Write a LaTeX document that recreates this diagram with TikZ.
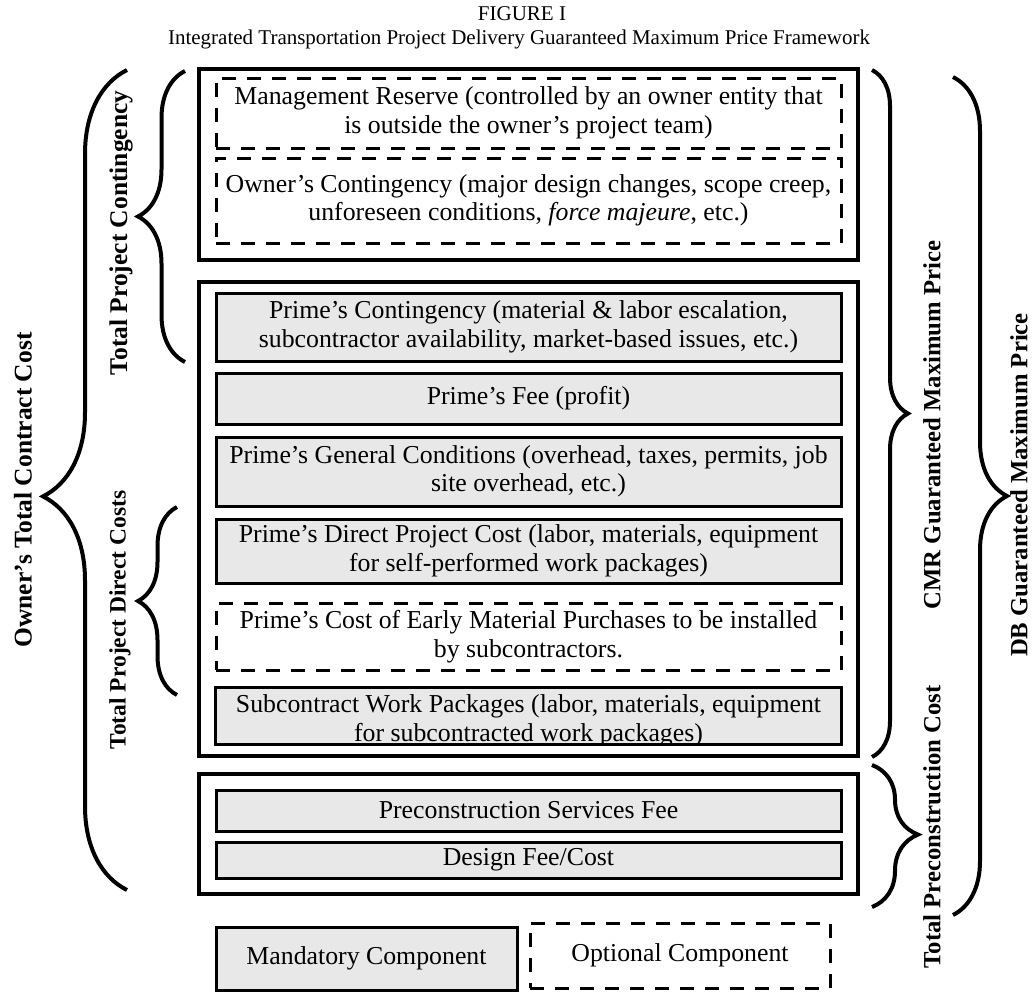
\documentclass[tikz,border=0pt]{standalone}
\usepackage{fontspec}
\setmainfont{Liberation Serif}
\usetikzlibrary{decorations.pathreplacing}
\definecolor{boxgray}{HTML}{E8E8E8}
\newcommand{\bxfont}{\fontsize{25.8}{28.5}\selectfont}
\newcommand{\sdfont}{\fontsize{24.7}{28}\selectfont\bfseries}
\newcommand{\ttlfont}{\fontsize{21}{25}\selectfont}
\begin{document}
\begin{tikzpicture}[x=1pt,y=-1pt,
  outerbox/.style={draw, line width=4.5pt, minimum width=659pt, inner sep=0pt},
  graybox/.style={draw, fill=boxgray, line width=3pt, minimum width=625pt, inner sep=0pt, align=center, font=\bxfont},
  dashbox/.style={draw, line width=3pt, dash pattern=on 14pt off 11pt, minimum width=625pt, inner sep=0pt, align=center, font=\bxfont},
  txt/.style={align=center, font=\bxfont, inner sep=0pt},
  brc/.style={decorate, line width=4pt},
  sidelabel/.style={rotate=90, font=\sdfont, inner sep=0pt},
  ttl/.style={font=\ttlfont, inner sep=0pt}
]
\useasboundingbox (0,0) rectangle (1033,991);
\fill[white] (0,0) rectangle (1033,991);

% titles
\node[ttl] (fig) at (522,14) {FIGURE I};
\node[ttl] (sub) at (519,39) {Integrated Transportation Project Delivery Guaranteed Maximum Price Framework};

% group 1: contingency
\node[outerbox, minimum height=191pt] (b1) at (528.5,164.5) {};
\node[dashbox, minimum height=70pt] (mr) at (528.5,113) {Management Reserve (controlled by an owner entity that\\is outside the owner’s project team)};
\node[dashbox, minimum height=85pt] (oc) at (528.5,200.5) {Owner’s Contingency (major design changes, scope creep,\\unforeseen conditions, \textit{force majeure}, etc.)};

% group 2: CMR price
\node[outerbox, minimum height=474pt] (b2) at (528.5,519) {};
\node[graybox, minimum height=68pt] (pc) at (528.5,327) {Prime’s Contingency (material \& labor escalation,\\subcontractor availability, market-based issues, etc.)};
\node[graybox, minimum height=51pt] (pf) at (528.5,398.5) {Prime’s Fee (profit)};
\node[graybox, minimum height=69pt] (gc) at (528.5,471.5) {Prime’s General Conditions (overhead, taxes, permits, job\\site overhead, etc.)};
\node[graybox, minimum height=64pt] (dpc) at (528.5,551) {Prime’s Direct Project Cost (labor, materials, equipment\\for self-performed work packages)};
\node[dashbox, minimum height=67pt] (em) at (528.5,636.5) {Prime’s Cost of Early Material Purchases to be installed\\by subcontractors.};
\node[draw=none, fill=boxgray, minimum width=625pt, minimum height=56pt, inner sep=0pt] (sw) at (528.5,716) {};
\begin{scope}
  \clip (sw.south west) rectangle (sw.north east);
  \node[txt] (swtext) at (528.5,721) {Subcontract Work Packages (labor, materials, equipment\\for subcontracted work packages)};
\end{scope}
\draw[line width=3pt] (sw.south west) rectangle (sw.north east);

% group 3: preconstruction
\node[outerbox, minimum height=120pt] (b3) at (528.5,834) {};
\node[graybox, minimum height=41pt] (ps) at (528.5,810.5) {Preconstruction Services Fee};
\node[graybox, minimum height=36pt] (df) at (528.5,860) {Design Fee/Cost};

% legend
\node[graybox, minimum width=301pt, minimum height=63pt] (mand) at (366.5,958.5) {Mandatory Component};
\node[dashbox, minimum width=300pt, minimum height=65pt] (opt) at (680,955.5) {\raisebox{3pt}{Optional Component}};

% braces (left)
\coordinate (otA) at (127,890); \coordinate (otB) at (127,70);
\draw[brc, decoration={brace, amplitude=84pt, aspect=0.48}] (otA) -- (otB);
\coordinate (tcA) at (185,362); \coordinate (tcB) at (185,71);
\draw[brc, decoration={brace, amplitude=47pt, aspect=0.5}] (tcA) -- (tcB);
\coordinate (tdA) at (177,695); \coordinate (tdB) at (177,507);
\draw[brc, decoration={brace, amplitude=39pt, aspect=0.5}] (tdA) -- (tdB);
% braces (right)
\coordinate (cmA) at (872,70); \coordinate (cmB) at (872,757);
\draw[brc, decoration={brace, amplitude=36pt, aspect=0.5}] (cmA) -- (cmB);
\coordinate (dbA) at (953,77); \coordinate (dbB) at (953,915);
\draw[brc, decoration={brace, amplitude=54pt, aspect=0.5}] (dbA) -- (dbB);
\coordinate (pcA) at (872,765); \coordinate (pcB) at (872,907);
\draw[brc, decoration={brace, amplitude=46pt, aspect=0.49}] (pcA) -- (pcB);

% side labels
\node[sidelabel, font={\fontsize{25.5}{28}\selectfont\bfseries}] (lot) at (23,490) {Owner’s Total Contract Cost};
\node[sidelabel, font={\fontsize{25.5}{28}\selectfont\bfseries}] (ltc) at (121,233) {Total Project Contingency};
\node[sidelabel, font={\fontsize{23.5}{28}\selectfont\bfseries}] (ltd) at (120,620) {Total Project Direct Costs};
\node[sidelabel] (lcm) at (932,425) {CMR Guaranteed Maximum Price};
\node[sidelabel] (ldb) at (1019,485) {DB Guaranteed Maximum Price};
\node[sidelabel] (lpc) at (932,827) {Total Preconstruction Cost};
\end{tikzpicture}
\end{document}
